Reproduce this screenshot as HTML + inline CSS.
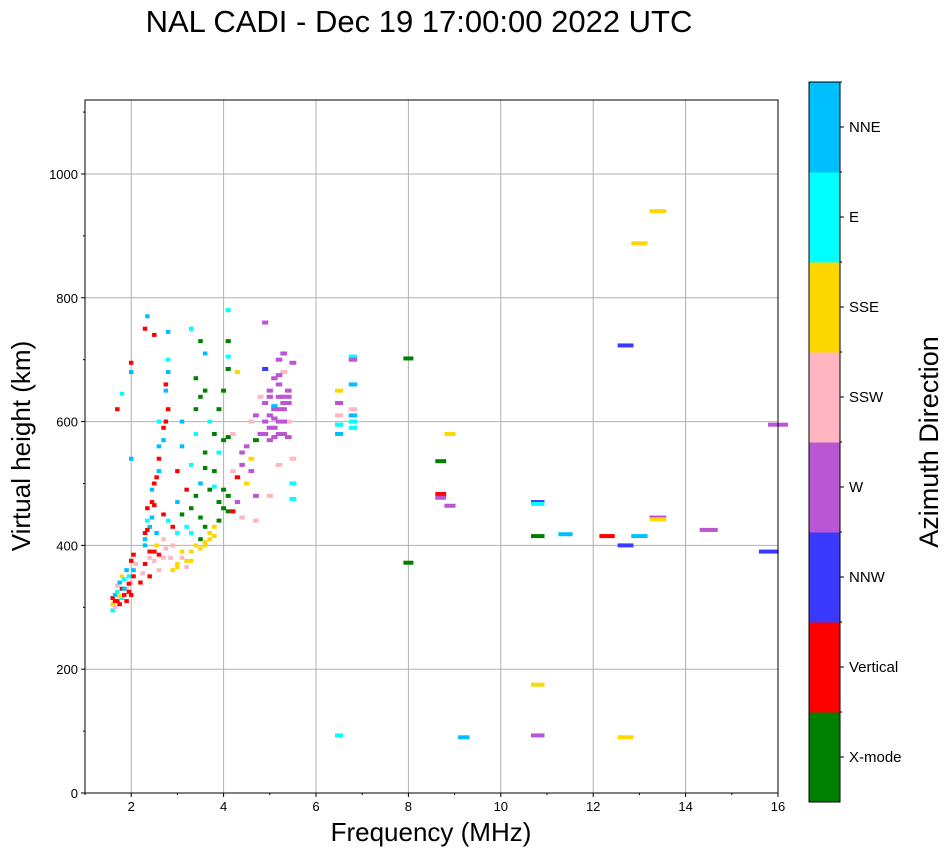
<!DOCTYPE html>
<html><head><meta charset="utf-8"><style>
html,body{margin:0;padding:0;background:#fff;}
svg{display:block;font-family:"Liberation Sans","DejaVu Sans",sans-serif;}
</style></head><body>
<svg id="chart" width="951" height="856" viewBox="0 0 951 856" xmlns="http://www.w3.org/2000/svg">
<text x="419" y="32" font-size="31" text-anchor="middle">NAL CADI - Dec 19 17:00:00 2022 UTC</text>
<g id="grid"></g>
<g id="marks"></g>
<rect x="85" y="100" width="693" height="693" fill="none" stroke="#000" stroke-width="1"/>
<g id="axes"></g>
<text x="431" y="841" font-size="26" text-anchor="middle">Frequency (MHz)</text>
<text transform="translate(30,446) rotate(-90)" font-size="26" text-anchor="middle">Virtual height (km)</text>
<g id="cbar"></g>
<text transform="translate(938,442) rotate(-90)" font-size="27" text-anchor="middle">Azimuth Direction</text>
</svg>
<script>
const categories=["X-mode","Vertical","NNW","W","SSW","SSE","E","NNE"];
const palette=["#008000","#ff0000","#3a3aff","#ba55d3","#ffb6c1","#ffd700","#00ffff","#00bfff"];
const xTicks=[2,4,6,8,10,12,14,16];
const yTicks=[0,200,400,600,800,1000];
const pts=[
1.6,295,6,1.6,305,5,1.6,315,1,1.65,300,4,1.65,320,7,1.7,310,1,1.7,325,6,1.7,335,4,1.75,305,1,1.75,340,7,1.8,315,6,1.8,330,1,1.8,350,5,1.85,320,1,1.85,345,6,1.9,310,1,1.9,330,4,1.9,360,7,1.95,325,1,1.95,350,6,2.0,320,1,2.0,340,4,2.0,375,1,2.05,385,1,2.05,360,7,
1.65,310,1,1.75,318,5,1.85,330,7,1.95,338,1,2.05,350,1,2.1,370,4,
2.2,340,1,2.25,355,4,2.3,370,1,2.3,400,7,2.3,420,1,2.35,440,6,2.35,460,1,2.4,380,4,2.4,430,7,2.45,470,1,2.45,490,7,2.5,390,1,2.5,500,1,2.55,420,7,2.55,510,1,2.6,360,4,2.6,540,1,2.6,560,7,2.7,380,4,2.7,450,1,2.7,570,7,2.75,600,1,2.75,650,7,2.8,620,1,2.8,680,7,2.8,700,6,2.8,745,7,2.5,740,1,2.35,770,7,2.3,750,1,2.0,695,1,2.0,680,7,1.8,645,6,1.7,620,1,2.0,540,7,2.6,600,6,
2.3,410,7,2.35,425,1,2.45,445,7,2.5,465,1,2.6,520,7,2.7,590,1,2.75,660,1,2.4,350,1,2.5,375,4,2.6,385,1,2.75,395,4,2.85,380,4,
2.9,360,5,2.9,400,4,3.0,370,5,3.0,420,6,3.0,470,7,3.0,520,1,3.1,380,4,3.1,450,0,3.1,560,7,3.1,600,7,3.2,375,5,3.2,430,6,3.2,490,1,3.3,390,5,3.3,460,0,3.3,530,6,3.3,750,6,3.4,400,5,3.4,480,0,3.4,580,6,3.4,620,0,3.5,410,0,3.5,500,7,3.5,640,0,3.5,730,0,3.6,400,5,3.6,430,0,3.6,550,0,3.6,650,0,3.6,710,7,3.7,420,5,3.7,490,0,3.7,600,6,3.8,430,5,3.8,520,0,3.8,580,0,3.9,440,0,3.9,620,0,3.9,550,6,4.0,460,0,4.0,570,0,4.0,650,0,4.1,480,0,4.1,575,0,4.1,685,0,4.1,730,0,4.1,780,6,4.1,705,6,3.4,670,0,2.4,390,1,2.55,400,5,2.7,410,4,2.8,440,6,2.9,430,1,
3.0,365,5,3.1,390,5,3.2,365,4,3.3,375,5,3.5,395,5,3.6,405,5,3.7,410,5,3.8,415,5,3.5,445,0,3.9,470,0,4.0,490,0,4.1,455,0,3.8,495,6,3.6,525,0,3.3,420,6,
4.2,455,1,4.2,520,4,4.2,580,4,4.3,510,1,4.3,470,3,4.3,680,5,4.4,530,3,4.4,445,4,4.5,500,5,4.5,560,3,4.6,600,4,4.6,540,5,4.7,570,0,4.7,610,3,4.7,480,3,4.7,440,4,4.8,580,3,4.8,640,4,4.9,600,3,4.9,630,3,4.9,685,2,4.9,760,3,5.0,650,3,5.0,570,3,5.0,480,4,5.1,620,3,5.1,670,3,5.1,590,3,5.2,640,3,5.2,600,3,5.2,700,3,5.3,630,3,5.3,580,3,5.3,680,4,5.3,710,3,5.4,650,3,5.4,600,4,5.5,540,4,5.5,500,6,5.5,475,6,5.5,695,3,5.2,530,4,5.1,625,7,
5.0,640,3,5.0,610,3,5.1,605,3,5.1,575,3,5.2,620,3,5.2,660,3,5.2,675,3,5.3,640,3,5.3,620,3,5.3,600,3,5.4,630,3,5.4,640,3,5.4,575,3,5.0,590,3,4.9,580,3,5.2,580,3,4.4,550,3,4.6,520,3,
6.5,650,5,6.5,630,3,6.5,610,4,6.5,595,6,6.5,580,7,6.5,93,6,6.8,705,6,6.8,700,3,6.8,660,7,6.8,620,4,6.8,610,7,6.8,600,6,6.8,590,6,
8.0,702,0,8.0,372,0,8.7,536,0,8.7,483,1,8.7,477,3,8.9,580,5,8.9,464,3,9.2,90,7,10.8,470,2,10.8,467,6,10.8,415,0,10.8,175,5,10.8,93,3,11.4,418,7,12.3,415,1,12.7,723,2,12.7,400,2,12.7,90,5,13.0,888,5,13.4,940,5,13.4,445,3,13.4,442,5,13.0,415,7,14.5,425,3,15.8,390,2,16.0,595,3];
const freqs=[],heights=[],dirs=[];
for(let i=0;i<pts.length;i+=3){freqs.push(pts[i]);heights.push(pts[i+1]);dirs.push(pts[i+2]);}
const NS="http://www.w3.org/2000/svg";
const X0=85,X1=778,Y0=793,Y1=100,FMIN=1,FMAX=16,HMAX=1119.5;
function xs(f){return X0+(f-FMIN)/(FMAX-FMIN)*(X1-X0);}
function ys(h){return Y0-h/HMAX*(Y0-Y1);}
function mk(t,a,p){const e=document.createElementNS(NS,t);for(const k in a)e.setAttribute(k,a[k]);p.appendChild(e);return e;}
const grid=document.getElementById('grid'),axes=document.getElementById('axes'),marks=document.getElementById('marks'),cb=document.getElementById('cbar');
xTicks.forEach(v=>{const x=xs(v);
 const g=mk('line',{x1:x,x2:x,y1:Y1,y2:Y0,stroke:'#b0b0b0','stroke-width':1},grid);
 
 
 mk('line',{x1:x,x2:x,y1:Y0,y2:Y0+4,stroke:'#000'},axes);
 const t=mk('text',{x:x,y:Y0+18,'font-size':13,'text-anchor':'middle'},axes);t.textContent=v;
 
 
});
for(let v=1;v<=15;v+=2){const x=xs(v);mk('line',{x1:x,x2:x,y1:Y0,y2:Y0+2,stroke:'#000'},axes);}
yTicks.forEach(v=>{const y=ys(v);
 const g=mk('line',{x1:X0,x2:X1,y1:y,y2:y,stroke:'#b0b0b0','stroke-width':1},grid);
 
 
 mk('line',{x1:X0-4,x2:X0,y1:y,y2:y,stroke:'#000'},axes);
 const t=mk('text',{x:X0-7,y:y+5,'font-size':13,'text-anchor':'end'},axes);t.textContent=v;
 
 
});
for(let v=100;v<=1100;v+=200){const y=ys(v);mk('line',{x1:X0-2,x2:X0,y1:y,y2:y,stroke:'#000'},axes);}
for(let i=0;i<freqs.length;i++){
 const w=Math.max(4.5,freqs[i]*1.25);
 const r=mk('rect',{x:xs(freqs[i])-w/2,y:ys(heights[i])-2,width:w,height:4,fill:palette[dirs[i]]},marks);
 
 
}
const CX=809,CW=31,CT=82,CB=802,seg=(CB-CT)/categories.length;
categories.forEach((c,i)=>{
 const y=CB-(i+1)*seg;
 const r=mk('rect',{x:CX,y:y,width:CW,height:seg+0.5,fill:palette[i]},cb);
 
 
 mk('line',{x1:CX+CW,x2:CX+CW+4,y1:y+seg/2,y2:y+seg/2,stroke:'#000'},cb);
 mk('line',{x1:CX+CW,x2:CX+CW+2,y1:y,y2:y,stroke:'#000'},cb);
 const t=mk('text',{x:CX+CW+9,y:y+seg/2+5,'font-size':15},cb);t.textContent=c;
 
 
});
mk('rect',{x:CX,y:CT,width:CW,height:CB-CT,fill:'none',stroke:'#000'},cb);
</script>
</body></html>
